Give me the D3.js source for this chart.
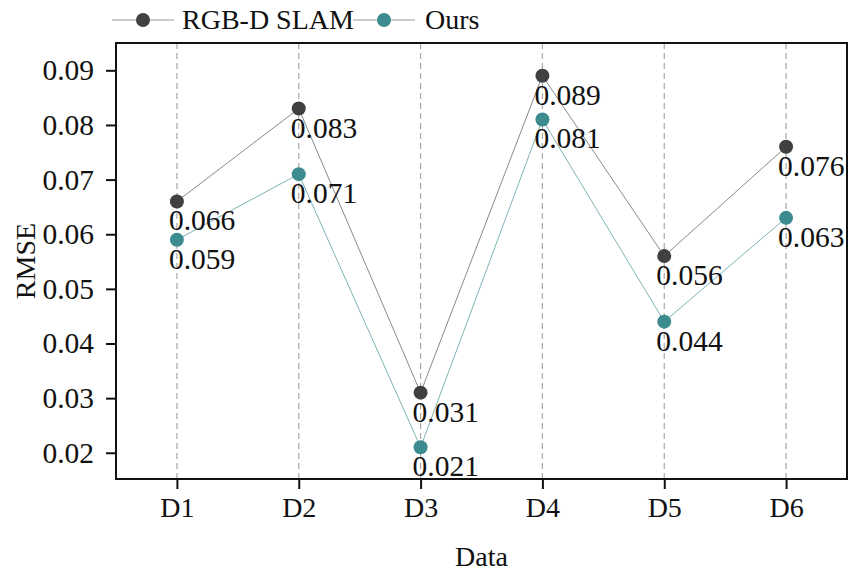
<!DOCTYPE html>
<html>
<head>
<meta charset="utf-8">
<script src="https://cdn.jsdelivr.net/npm/d3@7"></script>
<style>
body { margin: 0; background: #fff; }
text { font-family: "Liberation Serif", "Times New Roman", serif; fill: #111; }
</style>
</head>
<body>
<div id="chart"></div>
<script>
// data
var categories = ["D1", "D2", "D3", "D4", "D5", "D6"];
var slamValues = [0.066, 0.083, 0.031, 0.089, 0.056, 0.076];
var oursValues = [0.059, 0.071, 0.021, 0.081, 0.044, 0.063];
var yTicks = [0.02, 0.03, 0.04, 0.05, 0.06, 0.07, 0.08, 0.09];
var seriesNames = ["RGB-D SLAM", "Ours"];
var seriesColors = ["#404040", "#3b8b8f"];

var svgWidth = 850;
var svgHeight = 574;
var margin = { top: 43, right: 3, bottom: 95, left: 116 };
var width = svgWidth - margin.left - margin.right;
var height = svgHeight - margin.top - margin.bottom;

var svg = d3.select("#chart")
  .append("svg")
  .attr("width", svgWidth)
  .attr("height", svgHeight);

var chartGroup = svg.append("g")
  .attr("transform", `translate(${margin.left}, ${margin.top})`);

// scales
var xScale = d3.scalePoint()
  .domain(categories)
  .range([0, width])
  .padding(0.5);

var yScale = d3.scaleLinear()
  .domain([0.0152, 0.095])
  .range([height, 0]);

// dashed vertical grid lines
chartGroup.selectAll(".grid")
  .data(categories)
  .enter()
  .append("line")
  .attr("x1", d => xScale(d))
  .attr("x2", d => xScale(d))
  .attr("y1", 0)
  .attr("y2", height)
  .attr("stroke", "#a8a8a8")
  .attr("stroke-width", 1.2)
  .attr("stroke-dasharray", "6,4");

// axes
var bottomAxis = d3.axisBottom(xScale).tickSize(10).tickPadding(8);
var leftAxis = d3.axisLeft(yScale).tickValues(yTicks).tickSize(10).tickPadding(12)
  .tickFormat(d3.format(".2f"));

var xAxisG = chartGroup.append("g")
  .attr("transform", `translate(0, ${height})`)
  .call(bottomAxis);

var yAxisG = chartGroup.append("g")
  .call(leftAxis);

[xAxisG, yAxisG].forEach(function(g, i) {
  g.select(".domain").remove();
  g.selectAll(".tick line").attr("stroke", "#111").attr("stroke-width", 2);
  g.selectAll(".tick text")
    .attr("font-family", "Liberation Serif")
    .attr("font-size", i == 0 ? 28 : 29.5)
    .attr("fill", "#111");
});

// frame
chartGroup.append("rect")
  .attr("x", 0)
  .attr("y", 0)
  .attr("width", width)
  .attr("height", height)
  .attr("fill", "none")
  .attr("stroke", "#111")
  .attr("stroke-width", 2);

// series lines, points, labels
var seriesData = [slamValues, oursValues];

var line = d3.line()
  .x((d, i) => xScale(categories[i]))
  .y(d => yScale(d));

seriesData.forEach(function(values, s) {
  chartGroup.append("path")
    .datum(values)
    .attr("d", line)
    .attr("fill", "none")
    .attr("stroke", s == 0 ? "#8a8a8a" : "#7fb3b5")
    .attr("stroke-width", 1);
});

seriesData.forEach(function(values, s) {
  chartGroup.selectAll(".pt" + s)
    .data(values)
    .enter()
    .append("circle")
    .attr("cx", (d, i) => xScale(categories[i]))
    .attr("cy", d => yScale(d))
    .attr("r", 7)
    .attr("fill", seriesColors[s]);

  chartGroup.selectAll(".lbl" + s)
    .data(values)
    .enter()
    .append("text")
    .attr("x", (d, i) => xScale(categories[i]) - 8)
    .attr("y", d => yScale(d) + 29)
    .attr("font-size", 29.5)
    .text(d => d3.format(".3f")(d));
});

// legend
var legendItems = [
  { x: 112, textX: 182 },
  { x: 353, textX: 425 }
];
legendItems.forEach(function(item, i) {
  var lg = svg.append("g");
  lg.append("line")
    .attr("x1", item.x)
    .attr("x2", item.x + 62)
    .attr("y1", 20)
    .attr("y2", 20)
    .attr("stroke", "#999")
    .attr("stroke-width", 1);
  lg.append("circle")
    .attr("cx", item.x + 31)
    .attr("cy", 20)
    .attr("r", 7)
    .attr("fill", seriesColors[i]);
  lg.append("text")
    .attr("x", item.textX)
    .attr("y", 29)
    .attr("font-size", 28)
    .text(seriesNames[i]);
});

// axis labels
svg.append("text")
  .attr("transform", "rotate(-90)")
  .attr("x", -(margin.top + height / 2))
  .attr("y", 35)
  .attr("text-anchor", "middle")
  .attr("font-size", 28)
  .text("RMSE");

svg.append("text")
  .attr("x", margin.left + width / 2)
  .attr("y", 566)
  .attr("text-anchor", "middle")
  .attr("font-size", 28)
  .text("Data");
</script>
</body>
</html>
